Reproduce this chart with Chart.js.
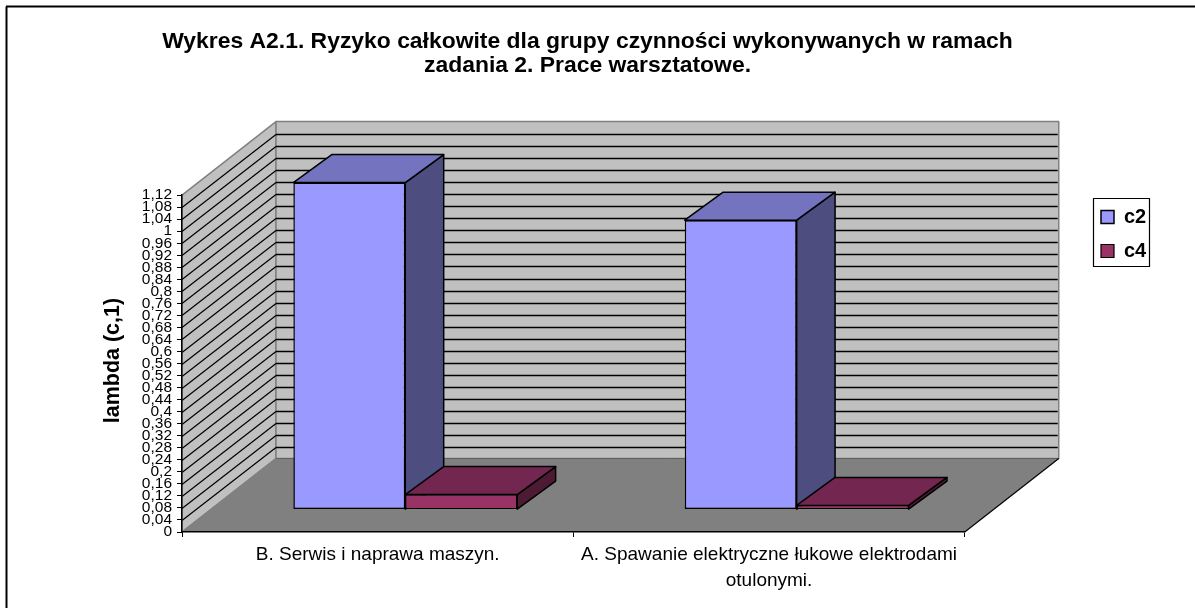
<!DOCTYPE html>
<html>
<head>
<meta charset="utf-8">
<style>html,body{margin:0;padding:0;background:#fff}canvas{display:block}</style>
<script src="https://cdn.jsdelivr.net/npm/chart.js@4"></script>
</head>
<body>
<canvas id="c" width="1195" height="608"></canvas>
<script>
const categories = ["B. Serwis i naprawa maszyn.", ["A. Spawanie elektryczne łukowe elektrodami", "otulonymi."]];
const c2Values = [1.087, 0.962];
const c4Values = [0.05, 0.014];
const yTickLabels = ["0","0,04","0,08","0,12","0,16","0,2","0,24","0,28","0,32","0,36","0,4","0,44","0,48","0,52","0,56","0,6","0,64","0,68","0,72","0,76","0,8","0,84","0,88","0,92","0,96","1","1,04","1,08","1,12"];
const titleLines = ["Wykres A2.1. Ryzyko całkowite dla grupy czynności wykonywanych w ramach", "zadania 2. Prace warsztatowe."];

const WALL_DX = 94, WALL_DY = -73.5;
const BAR_SHIFT_X = 27.6, BAR_SHIFT_Y = -22.4;
const BAR_DX = 38.4, BAR_DY = -28;

function poly(ctx, pts, fill, stroke, lw) {
  ctx.beginPath();
  pts.forEach((p, i) => i ? ctx.lineTo(p[0], p[1]) : ctx.moveTo(p[0], p[1]));
  ctx.closePath();
  if (fill) { ctx.fillStyle = fill; ctx.fill(); }
  if (stroke) { ctx.strokeStyle = stroke; ctx.lineWidth = lw || 1; ctx.lineJoin = 'round'; ctx.stroke(); }
}
function seg(ctx, x1, y1, x2, y2, color, lw) {
  ctx.beginPath(); ctx.moveTo(x1, y1); ctx.lineTo(x2, y2);
  ctx.strokeStyle = color; ctx.lineWidth = lw || 1; ctx.stroke();
}

const depthPlugin = {
  id: 'depth',
  beforeLayout(chart) {
    chart.legend.afterFit = function () { this.width = 56; };
  },
  afterLayout(chart) {
    const l = chart.legend;
    l.left = 1087; l.right = 1160; l.top = 193; l.bottom = 330;
    const t = chart.titleBlock;
    t.left = 0; t.right = 1175;
  },
  beforeDraw(chart) {
    const ctx = chart.ctx, a = chart.chartArea, y = chart.scales.y;
    const L = a.left, R = a.right, B = a.bottom, T = a.top;
    ctx.save();
    // outer frame
    seg(ctx, 6.5, 608, 6.5, 6.5, '#000', 2);
    seg(ctx, 6, 6.5, 1195, 6.5, '#000', 2);
    // left wall, back wall, floor
    poly(ctx, [[L, B], [L + WALL_DX, B + WALL_DY], [L + WALL_DX, T + WALL_DY], [L, T]], '#C0C0C0', '#808080', 1.5);
    poly(ctx, [[L + WALL_DX, B + WALL_DY], [R + WALL_DX, B + WALL_DY], [R + WALL_DX, T + WALL_DY], [L + WALL_DX, T + WALL_DY]], '#C0C0C0', '#808080', 1.5);
    y.ticks.forEach((tk, i) => {
      if (i === 0 || i === y.ticks.length - 1) return;
      const py = Math.round(y.getPixelForTick(i)) + 0.5;
      const by = Math.round(py + WALL_DY) + 0.5;
      seg(ctx, L, py, L + WALL_DX, by, '#000', 1.2);
      seg(ctx, L + WALL_DX, by, R + WALL_DX - 1, by, '#000', 1.3);
    });
    poly(ctx, [[L, B], [R, B], [R + WALL_DX, B + WALL_DY], [L + WALL_DX, B + WALL_DY]], '#808080');
    seg(ctx, L, B, L + WALL_DX, B + WALL_DY, '#808080', 1.5);
    seg(ctx, L + WALL_DX, B + WALL_DY, R + WALL_DX, B + WALL_DY, '#606060', 1);
    seg(ctx, R, B, R + WALL_DX, B + WALL_DY, '#000', 1.2);
    // legend frame
    ctx.fillStyle = '#fff'; ctx.fillRect(1093.5, 198.5, 56, 68);
    ctx.strokeStyle = '#000'; ctx.lineWidth = 1.2; ctx.strokeRect(1093.5, 198.5, 56, 68);
    ctx.restore();
  },
  beforeDatasetsDraw(chart) {
    const ctx = chart.ctx;
    const faces = [
      { index: 0, top: '#7373BF', side: '#4D4D80' },
      { index: 1, top: '#732650', side: '#4D1A33' }
    ];
    ctx.save();
    ctx.translate(BAR_SHIFT_X, BAR_SHIFT_Y);
    for (let d = 0; d < 2; d++) {
      faces.forEach(f => {
        const el = chart.getDatasetMeta(f.index).data[d];
        const p = el.getProps(['x', 'y', 'base', 'width'], true);
        const l = p.x - p.width / 2, r = p.x + p.width / 2;
        poly(ctx, [[r, p.y], [r + BAR_DX, p.y + BAR_DY], [r + BAR_DX, p.base + BAR_DY], [r, p.base]], f.side, '#000', 1.5);
        poly(ctx, [[l, p.y], [l + BAR_DX, p.y + BAR_DY], [r + BAR_DX, p.y + BAR_DY], [r, p.y]], f.top, '#000', 1.5);
      });
    }
    ctx.restore();
    ctx.save();
    ctx.translate(BAR_SHIFT_X, BAR_SHIFT_Y);
  },
  afterDatasetsDraw(chart) {
    chart.ctx.restore();
  }
};

new Chart(document.getElementById('c'), {
  type: 'bar',
  plugins: [depthPlugin],
  data: {
    labels: categories,
    datasets: [
      { label: 'c2', data: c2Values, backgroundColor: '#9999FF', borderColor: '#000', borderWidth: 1.5, borderSkipped: false, clip: false },
      { label: 'c4', data: c4Values, backgroundColor: '#993366', borderColor: '#000', borderWidth: 1.2, borderSkipped: false, clip: false }
    ]
  },
  options: {
    responsive: false,
    animation: false,
    events: [],
    categoryPercentage: 0.572,
    barPercentage: 1,
    layout: { padding: { top: 0, left: 100, right: 161, bottom: 0 } },
    plugins: {
      tooltip: { enabled: false },
      title: {
        display: true,
        text: titleLines,
        color: '#000',
        font: { family: '"Liberation Sans", Arial, sans-serif', size: 22.9, weight: 'bold', lineHeight: 1.05 },
        padding: { top: 30, bottom: 117 }
      },
      legend: {
        display: true,
        position: 'right',
        align: 'start',
        onClick: null,
        labels: {
          color: '#000',
          boxWidth: 13,
          boxHeight: 13,
          padding: 14,
          font: { family: '"Liberation Sans", Arial, sans-serif', size: 20, weight: 'bold' }
        }
      }
    },
    scales: {
      x: {
        afterFit(s) { s.height = 76; },
        border: { color: '#000', width: 1.5 },
        grid: { drawOnChartArea: false, drawTicks: true, tickLength: 5, tickColor: '#000' },
        ticks: {
          color: '#000', maxRotation: 0, minRotation: 0, autoSkip: false, padding: 5,
          font: { family: '"Liberation Sans", Arial, sans-serif', size: 19, lineHeight: 1.37 }
        }
      },
      y: {
        min: 0, max: 1.12,
        afterFit(s) { s.width = 82; },
        border: { color: '#000', width: 1.5 },
        grid: { drawOnChartArea: false, drawTicks: true, tickLength: 5, tickColor: '#000' },
        title: {
          display: true, text: ' lambda (c,1)', color: '#000', padding: 0,
          font: { family: '"Liberation Sans", Arial, sans-serif', size: 21.5, weight: 'bold' }
        },
        ticks: {
          stepSize: 0.04, autoSkip: false, color: '#000', padding: 5,
          font: { family: '"Liberation Sans", Arial, sans-serif', size: 15.5 },
          callback(v, i) { return yTickLabels[i]; }
        }
      }
    }
  }
});
</script>
</body>
</html>
